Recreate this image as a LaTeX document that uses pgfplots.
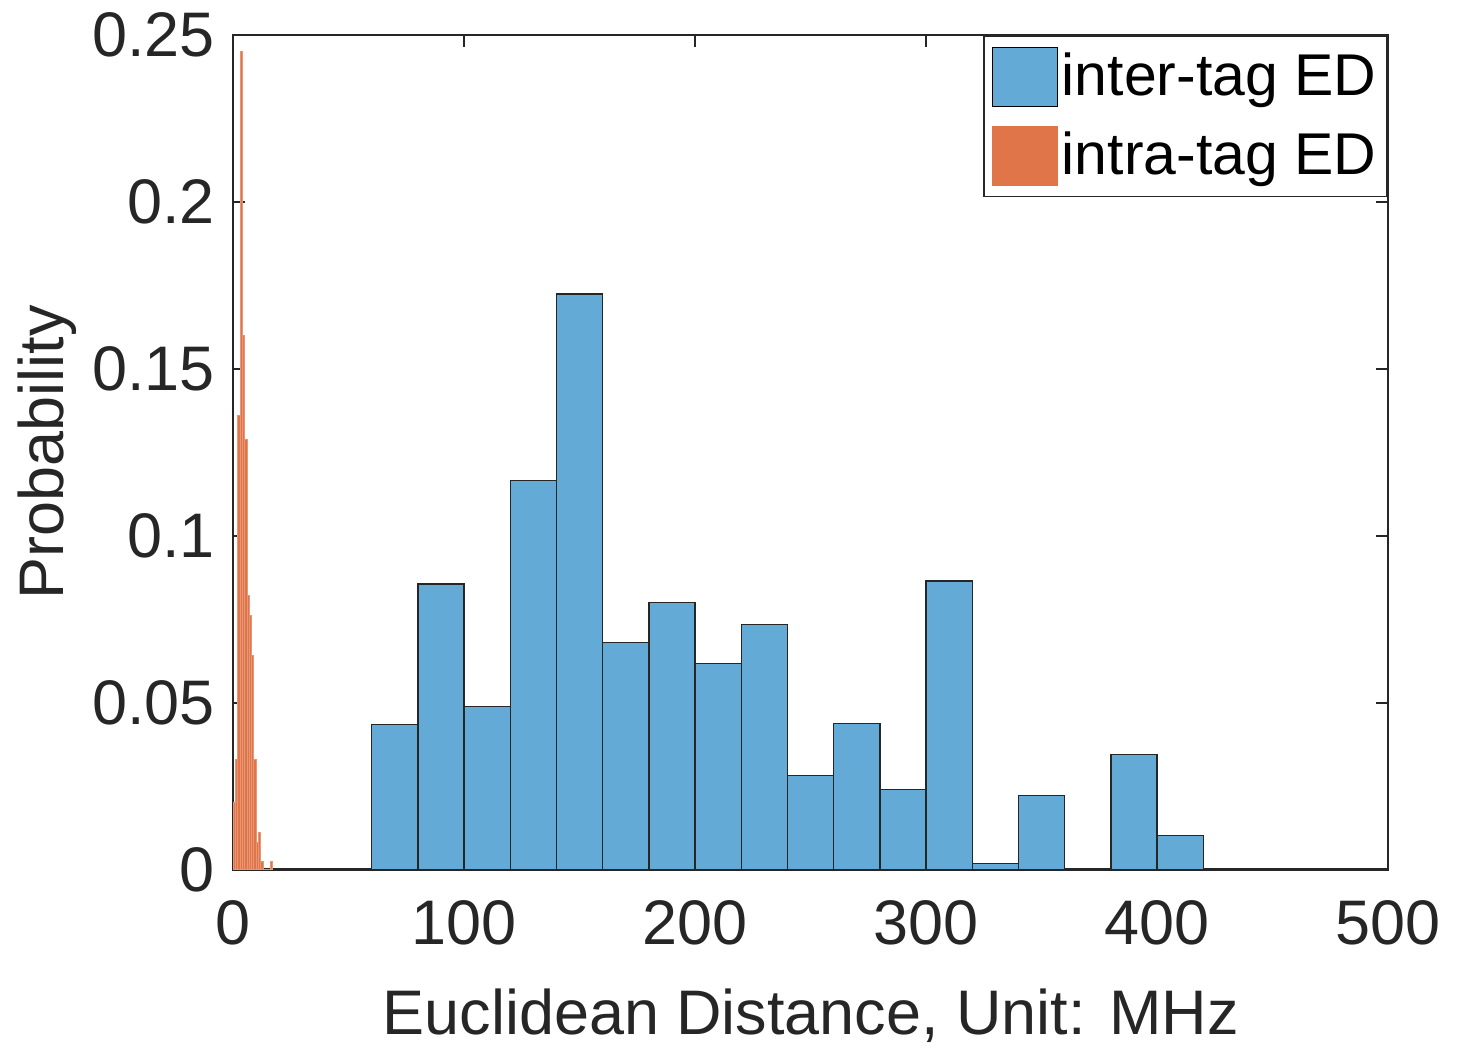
\documentclass[border=0pt]{standalone}
\usepackage{pgfplots}
\pgfplotsset{compat=1.18}
\usepackage{fontspec}
\setmainfont{Liberation Sans}
\definecolor{interblue}{HTML}{64AAD7}
\definecolor{intraorange}{HTML}{E07549}
\definecolor{axgray}{HTML}{262626}
\begin{document}
\begin{tikzpicture}
\begin{axis}[
  name=ax,
  scale only axis,
  width=315.6pt, height=228pt,
  xmin=0, xmax=500, ymin=0, ymax=0.25,
  xtick={0,100,200,300,400,500},
  ytick={0,0.05,0.1,0.15,0.2,0.25},
  yticklabels={0,0.05,0.1,0.15,0.2,0.25},
  /pgf/number format/assume math mode=true,
  tick align=inside,
  major tick length=3.3pt,
  axis line style={axgray, line width=0.6pt},
  every tick/.style={axgray, line width=0.6pt},
  tick label style={font=\fontsize{17.2}{19}\selectfont, text=axgray},
  xticklabel style={yshift=-5pt},
  yticklabel style={xshift=-1.5pt},
  label style={font=\fontsize{17.2}{19}\selectfont, text=axgray},
  xlabel={Euclidean Distance, Unit: MHz},
  ylabel={Probability},
  xlabel style={yshift=-5pt},
  ylabel style={yshift=-2.7pt},
  legend cell align=left,
  legend style={at={(rel axis cs:1,1)}, anchor=north east,
    draw=axgray, line width=0.5pt, font=\fontsize{16.1}{18}\selectfont,
    inner xsep=2pt, inner ysep=3pt, row sep=5.2pt, text=black,
    nodes={inner sep=1pt}},
]
% inter-tag Euclidean distances, 20 MHz bins
\addplot[ybar interval, fill=interblue, draw=axgray, line width=0.4pt,
  legend image code/.code={\draw[fill=interblue, draw=black, line width=0.4pt] (0pt,-8pt) rectangle (17.8pt,8pt);}]
  coordinates {
  (60,0.0434) (80,0.0856) (100,0.0488) (120,0.1165) (140,0.1725)
  (160,0.0680) (180,0.0800) (200,0.0617) (220,0.0734) (240,0.0281)
  (260,0.0437) (280,0.0240) (300,0.0865) (320,0.0018) (340,0.0222)
  (360,0.0) (380,0.0344) (400,0.0102) (420,0.0102)
  };
\addlegendentry{inter-tag ED}
% intra-tag Euclidean distances, 1 MHz bins
\addplot[ybar interval, fill=intraorange, draw=intraorange!75!white, line width=0.25pt,
  legend image code/.code={\fill[intraorange] (0pt,-8pt) rectangle (17.8pt,8pt);}]
  coordinates {
  (0,0.020) (1,0.033) (2,0.136) (3,0.245) (4,0.160) (5,0.129)
  (6,0.082) (7,0.076) (8,0.064) (9,0.033) (10,0.008) (11,0.011)
  (12,0.0025) (13,0) (14,0) (15,0) (16,0.0025) (17,0.0025)
  };
\addlegendentry{intra-tag ED}
\end{axis}
% page margins around the axis box
\path ([xshift=-63.7pt,yshift=-46.2pt]ax.south west) rectangle ([xshift=21pt,yshift=9.6pt]ax.north east);
\end{tikzpicture}
\end{document}
